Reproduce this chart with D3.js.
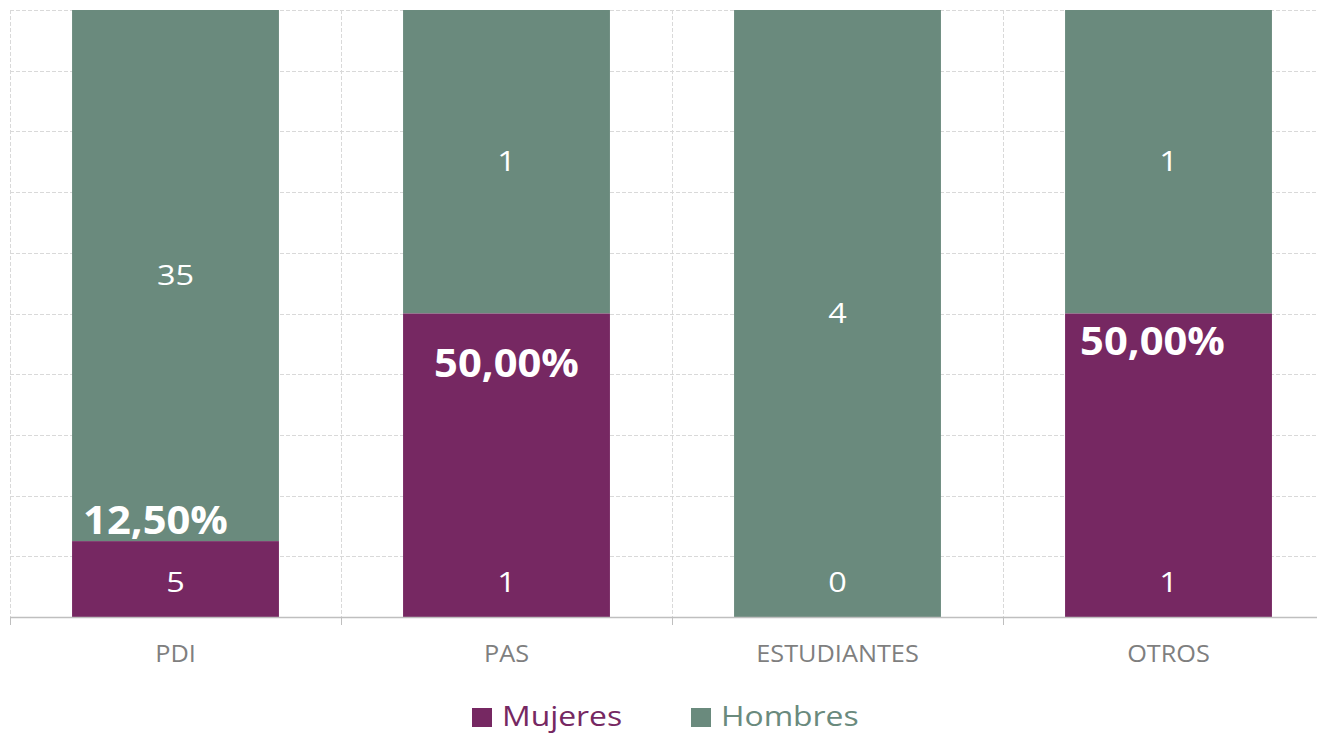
<!DOCTYPE html>
<html>
<head>
<meta charset="utf-8">
<title>Mujeres / Hombres</title>
<script src="https://cdn.jsdelivr.net/npm/d3@7"></script>
<style>
  body { margin: 0; background: #fff; }
  svg { display: block; font-family: "Open Sans", Lato, sans-serif; }
</style>
</head>
<body>
<svg id="chart" width="1317" height="735"></svg>
<script>
// data
var categories = ["PDI", "PAS", "ESTUDIANTES", "OTROS"];
var mujeres = [5, 1, 0, 1];
var hombres = [35, 1, 4, 1];
var seriesNames = ["Mujeres", "Hombres"];
var percentShown = [true, true, false, true];

// hand placed percent labels (offset from top of the Mujeres segment)
var pctOffsetX = [-20, 0, 0, -16];
var pctOffsetY = [-21, 50, 0, 28];

var colors = { Mujeres: "#762862", Hombres: "#6a8a7d" };

var svg = d3.select("#chart");
var plotLeft = 10, plotTop = 10, plotBottom = 617, bandW = 331;

var x = d3.scaleBand().domain(categories).range([plotLeft, plotLeft + bandW * 4]).paddingInner(0.375).paddingOuter(0.1875);
var y = d3.scaleLinear().domain([0, 1]).range([plotBottom, plotTop]);

// text that is a bit wider than Open Sans (source font is stretched)
function label(parent, px, py, txt, size, sx) {
  return parent.append("text")
    .attr("transform", "translate(" + px + "," + py + ") scale(" + sx + ",1)")
    .attr("dy", "0.35em").attr("font-size", size).text(txt);
}

// gridlines
var grid = svg.append("g");
grid.selectAll("line.h").data(d3.range(0, 1.0001, 0.1)).enter().append("line")
  .attr("x1", plotLeft).attr("x2", 1317)
  .attr("y1", d => Math.round(y(d)) + 0.5).attr("y2", d => Math.round(y(d)) + 0.5)
  .attr("stroke", "#d9d9d9").attr("stroke-dasharray", "4,2");
grid.selectAll("line.v").data(categories).enter().append("line")
  .attr("x1", (d, i) => plotLeft + i * bandW + 0.5).attr("x2", (d, i) => plotLeft + i * bandW + 0.5)
  .attr("y1", plotTop).attr("y2", plotBottom)
  .attr("stroke", "#d9d9d9").attr("stroke-dasharray", "4,2");

var rows = categories.map(function(c, i) {
  var t = mujeres[i] + hombres[i];
  return { cat: c, m: mujeres[i], h: hombres[i], pm: mujeres[i] / t, i: i };
});

// bars
var g = svg.append("g");
rows.forEach(function(r) {
  g.append("rect").attr("x", x(r.cat)).attr("width", x.bandwidth())
    .attr("y", y(1)).attr("height", y(r.pm) - y(1))
    .attr("fill", colors.Hombres);
  g.append("rect").attr("x", x(r.cat)).attr("width", x.bandwidth())
    .attr("y", y(r.pm)).attr("height", y(0) - y(r.pm))
    .attr("fill", colors.Mujeres);
});

// value labels
var lab = svg.append("g").attr("fill", "#fff").attr("text-anchor", "middle");
rows.forEach(function(r) {
  var cx = x(r.cat) + x.bandwidth() / 2;
  label(lab, cx, (y(1) + y(r.pm)) / 2, r.h, 27, 1.2);
  label(lab, cx, plotBottom - 34, r.m, 27, 1.2);
  if (percentShown[r.i]) {
    label(lab, cx + pctOffsetX[r.i], y(r.pm) + pctOffsetY[r.i],
      d3.format(".2f")(r.pm * 100).replace(".", ",") + "%", 39, 1.07)
      .attr("font-weight", "bold");
  }
});

// axis
svg.append("line").attr("x1", plotLeft).attr("x2", 1317).attr("y1", plotBottom + 0.5).attr("y2", plotBottom + 0.5)
  .attr("stroke", "#bfbfbf").attr("stroke-width", 1.5);
svg.selectAll("line.tick").data(categories).enter().append("line")
  .attr("x1", (d, i) => plotLeft + i * bandW + 0.5).attr("x2", (d, i) => plotLeft + i * bandW + 0.5)
  .attr("y1", plotBottom).attr("y2", plotBottom + 8).attr("stroke", "#bfbfbf");
var cats = svg.append("g").attr("text-anchor", "middle").attr("fill", "#7f7f7f");
categories.forEach(function(c) {
  label(cats, x(c) + x.bandwidth() / 2, 654, c, 23, 1.1);
});

// legend
var legX = [472, 691];
var leg = svg.append("g");
seriesNames.forEach(function(s, i) {
  leg.append("rect").attr("x", legX[i]).attr("y", 708).attr("width", 20).attr("height", 19).attr("fill", colors[s]);
  label(leg, legX[i] + 30, 717, s, 27, 1.18).attr("fill", colors[s]);
});
</script>
</body>
</html>
